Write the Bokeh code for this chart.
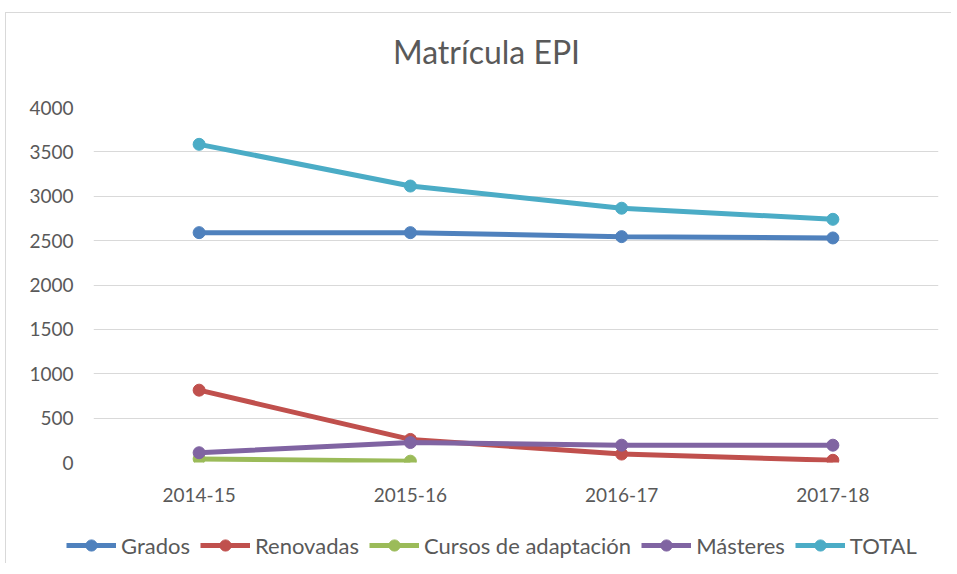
from bokeh.plotting import figure
from bokeh.layouts import column
from bokeh.models import Range1d, FixedTicker, Legend, LegendItem, Label
from bokeh.embed import file_html
from bokeh.resources import INLINE

title_text = "Matrícula EPI"
years = ["2014-15", "2015-16", "2016-17", "2017-18"]
grados = [2590, 2590, 2545, 2530]
renovadas = [815, 260, 95, 25]
cursos_years = ["2014-15", "2015-16"]
cursos = [40, 15]
masteres = [110, 225, 195, 195]
total = [3585, 3115, 2865, 2740]
y_ticks = [0, 500, 1000, 1500, 2000, 2500, 3000, 3500, 4000]

FONT = "Lato"
GREY = "#595959"
W = 945

# title strip (data units equal pixels here)
tf = figure(width=W, height=80, x_range=Range1d(0, W), y_range=Range1d(0, 80),
            x_axis_location=None, y_axis_location=None,
            output_backend="svg", toolbar_location=None,
            min_border_left=0, min_border_right=0, min_border_top=0, min_border_bottom=0)
tf.frame_align = False
tf.grid.visible = False
tf.outline_line_color = None
tf.title.visible = False
tf.add_layout(Label(x=480, y=42, text=title_text, text_align="center", text_baseline="middle",
                    text_font=FONT, text_font_size="32px", text_color=GREY))

p = figure(width=W, height=416, x_range=years, y_range=Range1d(0, 4000),
           output_backend="svg", toolbar_location=None,
           min_border_left=87, min_border_right=13, min_border_top=14, min_border_bottom=47)
p.frame_align = False
p.outline_line_color = None
p.title.visible = False

p.xgrid.grid_line_color = None
p.ygrid.grid_line_color = "#d9d9d9"
p.ygrid.grid_line_width = 1
p.yaxis.ticker = FixedTicker(ticks=y_ticks)
for ax in (p.xaxis[0], p.yaxis[0]):
    ax.axis_line_color = None
    ax.major_tick_line_color = None
    ax.minor_tick_line_color = None
    ax.major_label_text_font = FONT
    ax.major_label_text_font_size = "19px"
    ax.major_label_text_color = GREY
p.yaxis.major_label_standoff = 14
p.xaxis.major_label_standoff = 19

series = [
    ("Grados", years, grados, "#4F81BD"),
    ("Renovadas", years, renovadas, "#C0504D"),
    ("Cursos de adaptación", cursos_years, cursos, "#9BBB59"),
    ("Másteres", years, masteres, "#8064A2"),
    ("TOTAL", years, total, "#4BACC6"),
]

# legend strip below the chart (its own series copies lie outside its view)
lg = figure(width=W, height=54, x_range=years, y_range=Range1d(-2, -1),
            x_axis_location=None, y_axis_location=None,
            output_backend="svg", toolbar_location=None,
            min_border_left=0, min_border_right=0, min_border_top=0, min_border_bottom=0)
lg.frame_align = False
lg.grid.visible = False
lg.outline_line_color = None
lg.title.visible = False

items = []
for name, xs, ys, col in series:
    p.line(xs, ys, line_color=col, line_width=5)
    p.scatter(xs, ys, size=12, fill_color=col, line_color=col)
    l = lg.line(xs, ys, line_color=col, line_width=5)
    s = lg.scatter(xs, ys, size=12, fill_color=col, line_color=col)
    items.append(LegendItem(label=name, renderers=[l, s]))

legend = Legend(items=items, orientation="horizontal", location=(60, 4),
                glyph_width=50, glyph_height=28, label_standoff=5, spacing=10,
                padding=0, margin=0, border_line_color=None, background_fill_alpha=0,
                label_text_font=FONT, label_text_font_size="22px", label_text_color=GREY)
lg.add_layout(legend, "center")

layout = column(tf, p, lg, spacing=0)
layout.styles = {"border-left": "1px solid #d9d9d9", "border-top": "1px solid #d9d9d9",
                 "margin-left": "5px", "margin-top": "12px"}

open("out.html", "w").write(file_html(layout, INLINE))
